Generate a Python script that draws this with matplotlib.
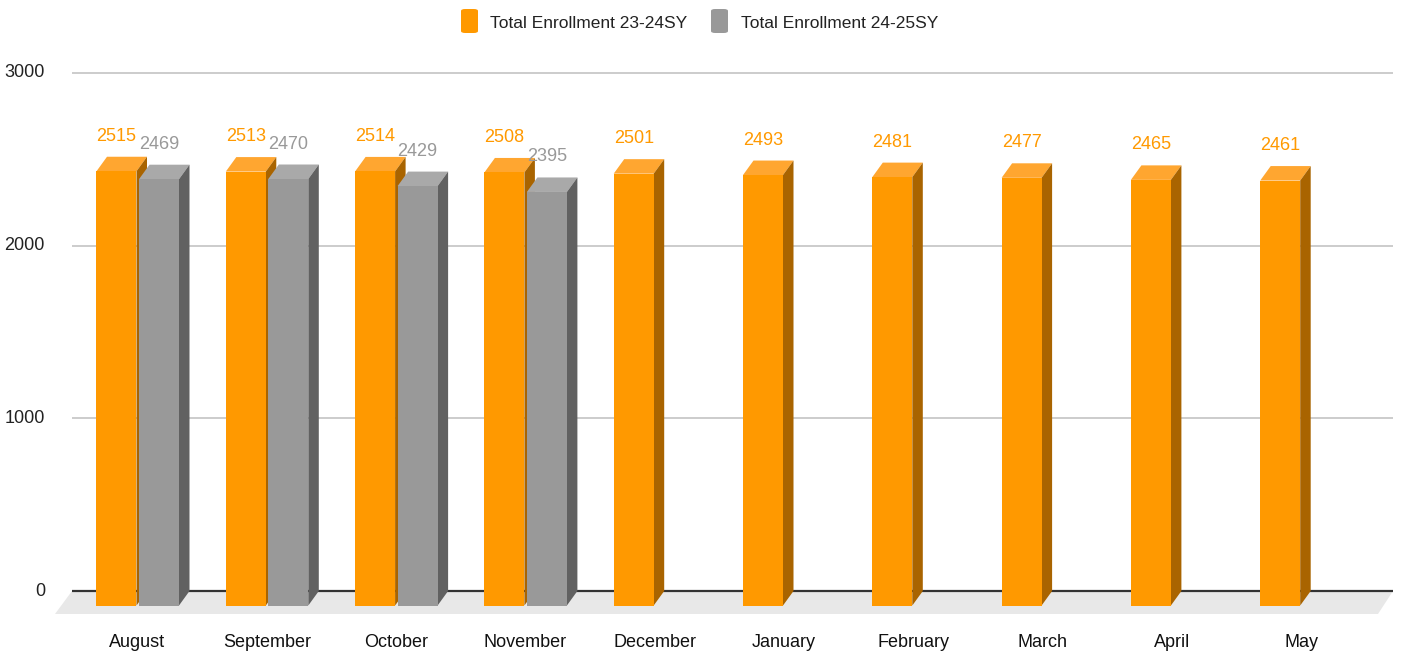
import numpy as np
import matplotlib
matplotlib.use('Agg')
import matplotlib.pyplot as plt
from matplotlib.patches import Polygon, Rectangle, FancyBboxPatch

plt.rcParams['font.family'] = ['Liberation Sans', 'DejaVu Sans']

months = ['August', 'September', 'October', 'November', 'December',
          'January', 'February', 'March', 'April', 'May']
enroll_2324 = [2515, 2513, 2514, 2508, 2501, 2493, 2481, 2477, 2465, 2461]
enroll_2425 = [2469, 2470, 2429, 2395]
series_names = ['Total Enrollment 23-24SY', 'Total Enrollment 24-25SY']
yticks = [0, 1000, 2000, 3000]

W, H = 1403, 658
fig = plt.figure(figsize=(W / 100, H / 100), dpi=100)
ax = fig.add_axes([0, 0, 1, 1])
ax.axis('off')

# pixel geometry of the original (category spacing / value scale)
step = 129.3            # px per category
k = 518 / 3000          # px per unit
x0px, y0px = 137.5, 591
ax.set_xlim(-x0px / step, (W - x0px) / step)
ax.set_ylim((y0px - H) / k, y0px / k)

def px(dx):
    return dx / step

def py(dy):
    return dy / k

ddx, ddy = px(10.5), py(14.5)   # depth offset
bw = px(40)

# floor
floor = Polygon([(px(72 - x0px), 0), (px(1393 - x0px), 0),
                 (px(1378 - x0px), -py(23)), (px(55 - x0px), -py(23))],
                closed=True, fc='#e8e8e8', ec='none', zorder=1)
ax.add_patch(floor)

# grid
gx = [px(72 - x0px), px(1393 - x0px)]
for t in yticks:
    if t == 0:
        ax.plot(gx, [0, 0], color='#333333', lw=1.6, zorder=2, solid_capstyle='butt')
    else:
        ax.plot(gx, [t, t], color='#cccccc', lw=1.4, zorder=1, solid_capstyle='butt')
    ax.text(px(45 - x0px), t, str(t), ha='right', va='center', fontsize=13, color='#222222')


def bar3d(xl, v, front, top, side, z):
    xr = xl + bw
    ax.add_patch(Polygon([(xl, v - ddy), (xr, v - ddy), (xr + ddx, v), (xl + ddx, v)],
                         closed=True, fc=top, ec='none', zorder=z))
    ax.add_patch(Polygon([(xr, v - ddy), (xr + ddx, v), (xr + ddx, 0), (xr, -ddy)],
                         closed=True, fc=side, ec='none', zorder=z))
    ax.add_patch(Rectangle((xl, -ddy), bw, v, fc=front, ec='none', zorder=z))


for i, m in enumerate(months):
    xo = i - px(41)
    bar3d(xo, enroll_2324[i], '#ff9900', '#ffa630', '#a96400', 3)
    ax.text(xo + bw / 2, enroll_2324[i] + py(16), str(enroll_2324[i]), ha='center',
            va='baseline', fontsize=13, color='#ff9900')
    if i < len(enroll_2425):
        xg = i + px(1.5)
        bar3d(xg, enroll_2425[i], '#999999', '#a9a9a9', '#616161', 4)
        ax.text(xg + bw / 2, enroll_2425[i] + py(16), str(enroll_2425[i]), ha='center',
                va='baseline', fontsize=13, color='#999999')
    ax.text(i, py(591 - 647), m, ha='center', va='baseline', fontsize=13, color='#111111')

# legend
leg = [(461, 490, '#ff9900'), (711, 741, '#999999')]
for (sx, tx, c), name in zip(leg, series_names):
    fig.patches.append(FancyBboxPatch((sx / W, 1 - 33 / H), 17 / W, 24 / H,
                                      boxstyle='round,pad=0,rounding_size=0.003',
                                      transform=fig.transFigure, fc=c, ec='none'))
    fig.text(tx / W, 1 - 28 / H, name, ha='left', va='baseline', fontsize=12.5, color='#222222')

fig.savefig('out.png', dpi=100)
